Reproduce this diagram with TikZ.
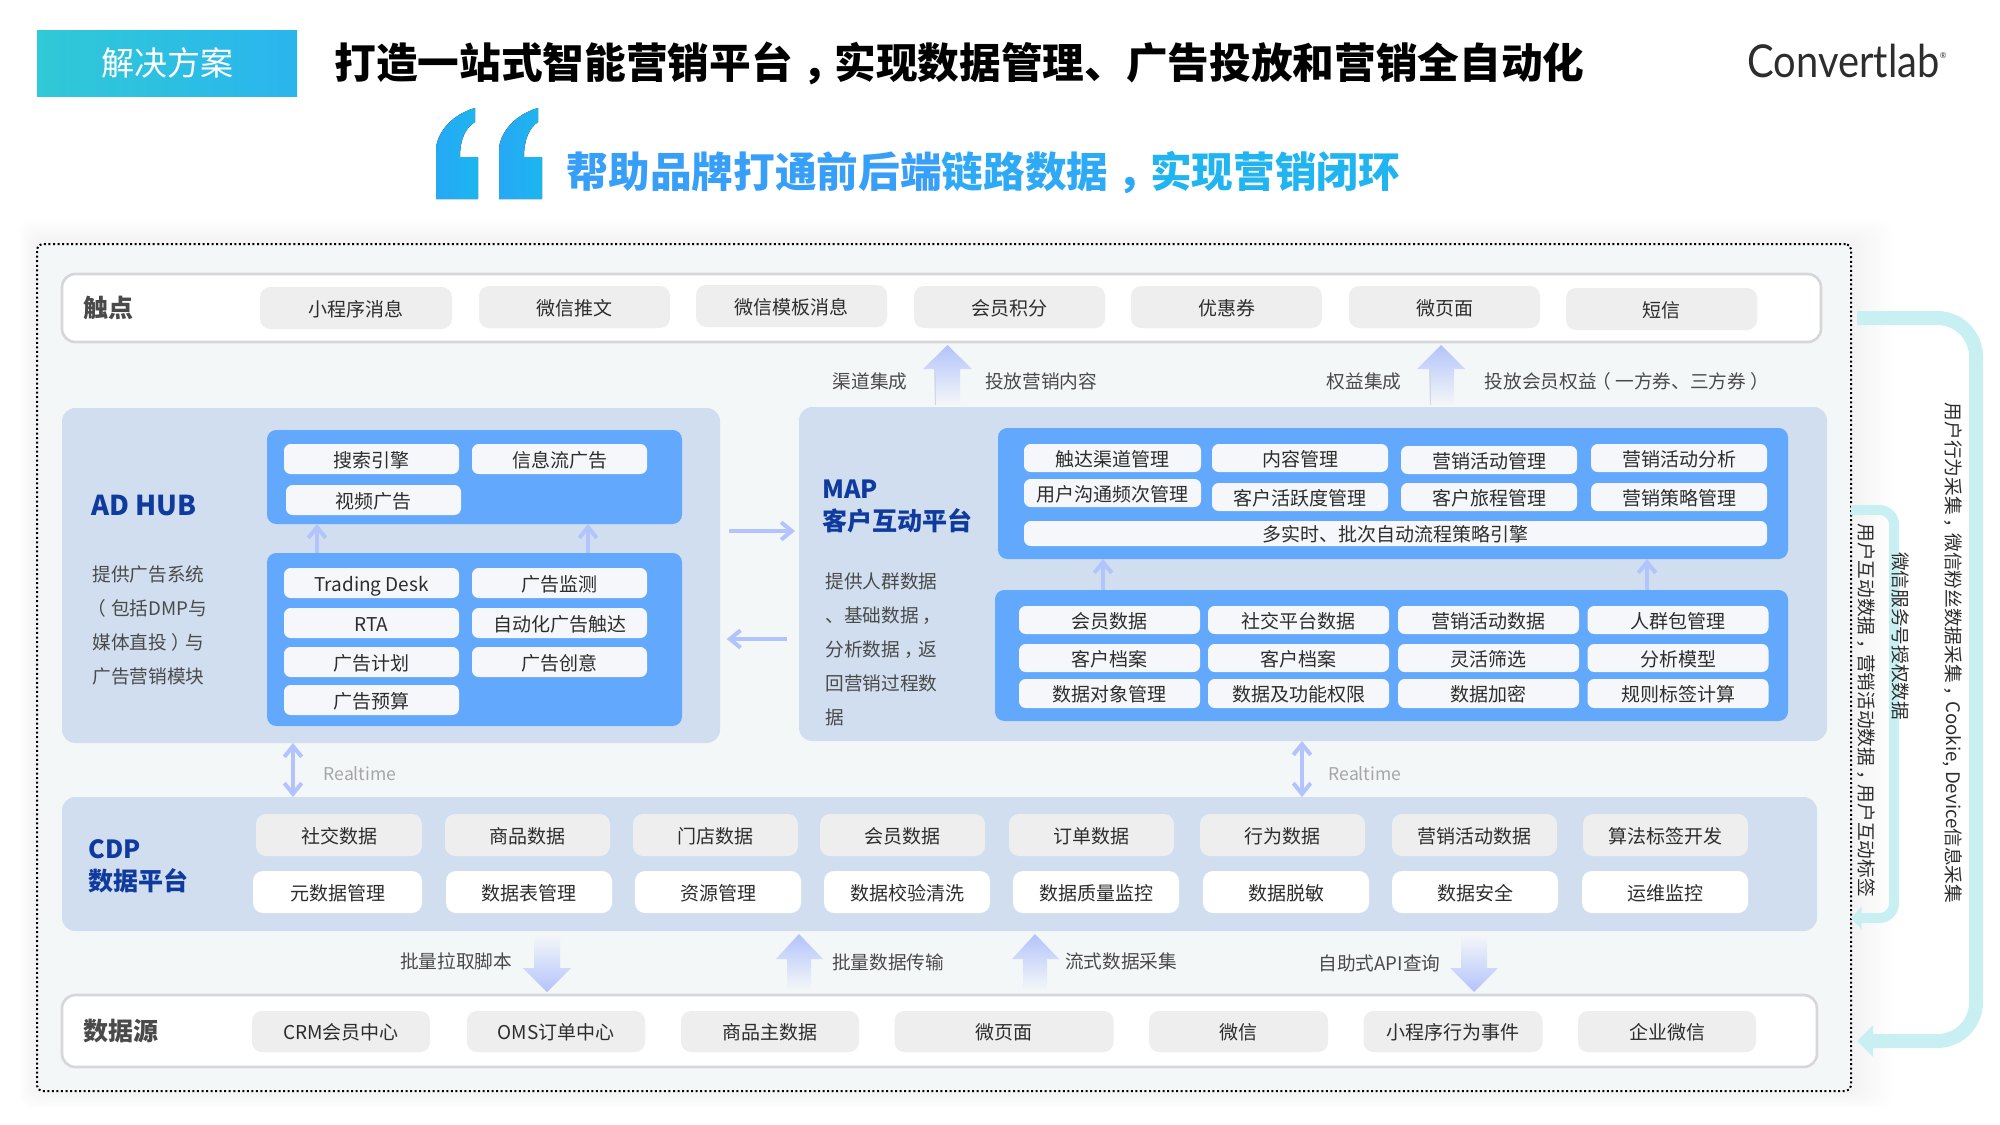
\documentclass[tikz,border=0pt]{standalone}
\usepackage{fontspec}
\setmainfont{Noto Sans CJK SC}
\newfontfamily\logofont{Lato}
\usetikzlibrary{arrows.meta}

\definecolor{panelbg}{HTML}{F4F7F8}
\definecolor{layerbg}{HTML}{D0DEEF}
\definecolor{innerblue}{HTML}{62A8FD}
\definecolor{chipgray}{HTML}{EEEEEE}
\definecolor{chipwhite}{HTML}{F6F7FA}
\definecolor{barline}{HTML}{D5D7DA}
\definecolor{headblue}{HTML}{0F3A9E}
\definecolor{arrowblue}{HTML}{B3C3FB}
\definecolor{looptint}{HTML}{C8F0F2}
\definecolor{textdark}{HTML}{2D2D2D}
\definecolor{textgray}{HTML}{4A4A4A}
\definecolor{badgeleft}{HTML}{30C9D6}
\definecolor{badgemid}{HTML}{3B95FF}
\definecolor{badgeright}{HTML}{2AB5EE}
\definecolor{quoteleft}{HTML}{26A8F5}
\definecolor{quoteright}{HTML}{1CB6EE}

%full-width marks sit in the middle of their box here
\newcommand{\cnc}{\hspace{.22em}，\hspace{-.22em}}
\newcommand{\cnl}{\hspace{-.25em}（\hspace{.25em}}
\newcommand{\cnr}{\hspace{.25em}）\hspace{-.25em}}

\tikzset{every picture/.style={line width=0.75pt}}
\tikzset{
  wh/.style 2 args={minimum width=#1*0.75pt,minimum height=#2*0.75pt,inner sep=0pt,outer sep=0pt},
  bodytext/.style={font=\fontsize{14.25}{17}\selectfont,text=textdark,text height=13.4pt,text depth=0.9pt},
  graychip/.style={fill=chipgray,rounded corners=7.5pt,bodytext},
  whitechip/.style={fill=white,rounded corners=7.5pt,bodytext},
  smallchip/.style={fill=chipwhite,rounded corners=5pt,bodytext},
  layerbox/.style={fill=layerbg,rounded corners=10pt},
  bluebox/.style={fill=innerblue,rounded corners=7pt},
  barbox/.style={fill=white,draw=barline,line width=2pt,rounded corners=10pt},
  barlabel/.style={anchor=west,inner sep=0pt,font=\fontsize{18.75}{22}\selectfont\bfseries,text=textgray},
  layerlabel/.style={anchor=west,inner sep=0pt,align=left,font=\fontsize{18.75}{24}\selectfont\bfseries,text=headblue},
  desclabel/.style={anchor=west,inner sep=0pt,align=left,font=\fontsize{14}{25.5}\selectfont,text=textgray},
  plainlabel/.style={font=\fontsize{14}{17}\selectfont,text=textgray},
  timelabel/.style={font=\fontsize{13.2}{17}\selectfont,text=black!35},
  vertlabel/.style={rotate=-90,font=\fontsize{14}{17}\selectfont,text=textdark},
  thinarrow/.style={draw=arrowblue,line width=3pt,-{Straight Barb[length=8pt,width=13pt]}},
  twoarrow/.style={draw=arrowblue,line width=3pt,{Straight Barb[length=8pt,width=13pt]}-{Straight Barb[length=8pt,width=13pt]}},
  upshade/.style={top color=arrowblue,bottom color=panelbg},
  downshade/.style={top color=panelbg,bottom color=arrowblue},
  looparrow/.style={draw=looptint,line width=10.5pt,-{Triangle[length=12pt,width=23pt]}},
  smallloop/.style={draw=looptint,line width=7.5pt,-{Triangle[length=8pt,width=17pt]}},
}

\begin{document}
\begin{tikzpicture}[x=0.75pt,y=0.75pt,yscale=-1,xscale=1]
\useasboundingbox (0,0) rectangle (2000,1125);

% Header
\node (badge) at (167,63) [wh={260}{66},left color=badgeleft,middle color=badgemid,right color=badgeright,font=\fontsize{24.75}{28}\selectfont,text=white] {解决方案};
\node (title) at (959.5,63) [font=\fontsize{31.25}{36}\selectfont\bfseries,text=black] {打造一站式智能营销平台\cnc 实现数据管理、广告投放和营销全自动化};
\node (logo) at (1847,61) [font=\logofont\fontsize{34}{40}\selectfont,text=textdark] {\scalebox{0.88}[1]{Convertlab}\raisebox{14pt}{\fontsize{6}{6}\selectfont ®}};
% Quote marks
\fill[left color=quoteleft,right color=quoteright] (436,199) -- (478,199) -- (478,157) -- (460,157) .. controls (460,140) and (465,128) .. (475,122) -- (475,108) .. controls (450,115) and (436,135) .. (436,150) -- cycle;
\fill[left color=quoteleft,right color=quoteright] (499,199) -- (542,199) -- (542,157) -- (524,157) .. controls (524,140) and (529,128) .. (538,122) -- (538,108) .. controls (513,115) and (499,135) .. (499,150) -- cycle;
\node (subtitle) at (983.5,173) [font=\fontsize{31.25}{36}\selectfont\bfseries] {\textcolor[HTML]{389FF8}{帮助品牌打通前后端}\textcolor[HTML]{2EA9F6}{链路数据\cnc}\textcolor[HTML]{20B4F0}{实现营销闭环}};

% Outer panel
\foreach \s in {1,...,12}
  \fill[black,opacity=0.004,rounded corners=8pt] ({37-1.5*\s},{244-2*\s}) rectangle ({1851+3.5*\s},{1091+1.4*\s});
\node (outer) at (944,667.5) [wh={1814}{847},fill=panelbg,draw=black,line width=1.5pt,dash pattern=on 1.5pt off 1.9pt,rounded corners=4pt] {};

% Touch points
\node (touch) at (941.5,308) [wh={1759}{68},barbox] {};
\node (touchlabel) at (83,308) [barlabel] {触点};
\node (t1) at (356,308) [wh={192}{42},graychip] {小程序消息};
\node (t2) at (574.5,307) [wh={191}{42},graychip] {微信推文};
\node (t3) at (791.5,306) [wh={191}{42},graychip] {微信模板消息};
\node (t4) at (1009.5,307) [wh={191}{42},graychip] {会员积分};
\node (t5) at (1226.5,307) [wh={191}{42},graychip] {优惠券};
\node (t6) at (1444.5,307) [wh={191}{42},graychip] {微页面};
\node (t7) at (1661.5,309) [wh={191}{42},graychip] {短信};

% Arrows under touch points
\path[upshade] (947.5,345) -- (972,369) -- (960,369) -- (960,405) -- (934,405) -- (934,369) -- (923,369) -- cycle;
\draw[barline] (935,369) -- (935,405);
\path[upshade] (1441,345) -- (1465,369) -- (1454,369) -- (1454,405) -- (1429,405) -- (1429,369) -- (1417,369) -- cycle;
\draw[barline] (1430,369) -- (1430,405);
\node (la) at (870,381) [plainlabel] {渠道集成};
\node (lb) at (1041,381) [plainlabel] {投放营销内容};
\node (lc) at (1364,381) [plainlabel] {权益集成};
\node (ld) at (1627,381) [plainlabel] {投放会员权益\cnl 一方券、三方券\cnr};

% AD HUB
\node (adhub) at (391,575.5) [wh={658}{335},layerbox] {};
\node (adup) at (474.5,477) [wh={415}{94},bluebox] {};
\node (adlow) at (474.5,639.5) [wh={415}{173},bluebox] {};
\node (adname) at (91,506) [layerlabel,font=\fontsize{20.5}{24}\selectfont\bfseries] {AD HUB};
\node (addesc) at (92,625.5) [desclabel] {提供广告系统\\\cnl 包括DMP与\\媒体直投\cnr 与\\广告营销模块};
\node (a1) at (371.5,459) [wh={175}{30},smallchip] {搜索引擎};
\node (a2) at (559.5,459) [wh={175}{30},smallchip] {信息流广告};
\node (a3) at (373.5,500) [wh={175}{30},smallchip] {视频广告};
\node (a4) at (371.5,583) [wh={175}{30},smallchip] {Trading Desk};
\node (a5) at (559.5,583) [wh={175}{30},smallchip] {广告监测};
\node (a6) at (371.5,623) [wh={175}{30},smallchip] {RTA};
\node (a7) at (559.5,623) [wh={175}{30},smallchip] {自动化广告触达};
\node (a8) at (371.5,662) [wh={175}{30},smallchip] {广告计划};
\node (a9) at (559.5,662) [wh={175}{30},smallchip] {广告创意};
\node (a10) at (371.5,700) [wh={175}{30},smallchip] {广告预算};
\coordinate (adxa) at (317,540);
\coordinate (adxb) at (588,540);
\draw[thinarrow] (adxa |- adlow.north) -- (adxa |- adup.south);
\draw[thinarrow] (adxb |- adlow.north) -- (adxb |- adup.south);

% MAP
\node (map) at (1313,574) [wh={1028}{334},layerbox] {};
\node (mapup) at (1393,493.5) [wh={790}{131},bluebox] {};
\node (maplow) at (1391.5,655.5) [wh={793}{131},bluebox] {};
\node (mapname) at (822,506) [layerlabel] {MAP\\客户互动平台};
\node (mapdesc) at (825,649.5) [desclabel] {提供人群数据\\、基础数据\cnc\\分析数据\cnc 返\\回营销过程数\\据};
\node (m1) at (1112.5,458) [wh={177}{28},smallchip] {触达渠道管理};
\node (m2) at (1300,458) [wh={176}{28},smallchip] {内容管理};
\node (m3) at (1489,460) [wh={176}{28},smallchip] {营销活动管理};
\node (m4) at (1679,458) [wh={176}{28},smallchip] {营销活动分析};
\node (m5) at (1112.5,493) [wh={177}{28},smallchip] {用户沟通频次管理};
\node (m6) at (1300,497) [wh={176}{28},smallchip] {客户活跃度管理};
\node (m7) at (1489,497) [wh={176}{28},smallchip] {客户旅程管理};
\node (m8) at (1679,497) [wh={176}{28},smallchip] {营销策略管理};
\node (m9) at (1395.5,533.5) [wh={743}{25},smallchip] {多实时、批次自动流程策略引擎};
\node (n1) at (1109.5,620) [wh={181}{28},smallchip] {会员数据};
\node (n2) at (1298.5,620) [wh={181}{28},smallchip] {社交平台数据};
\node (n3) at (1488.5,620) [wh={181}{28},smallchip] {营销活动数据};
\node (n4) at (1678,620) [wh={181}{28},smallchip] {人群包管理};
\node (n5) at (1109.5,658) [wh={181}{28},smallchip] {客户档案};
\node (n6) at (1298.5,658) [wh={181}{28},smallchip] {客户档案};
\node (n7) at (1488.5,658) [wh={181}{28},smallchip] {灵活筛选};
\node (n8) at (1678,658) [wh={181}{28},smallchip] {分析模型};
\node (n9) at (1109.5,693.5) [wh={181}{29},smallchip] {数据对象管理};
\node (n10) at (1298.5,693.5) [wh={181}{29},smallchip] {数据及功能权限};
\node (n11) at (1488.5,693.5) [wh={181}{29},smallchip] {数据加密};
\node (n12) at (1678,693.5) [wh={181}{29},smallchip] {规则标签计算};
\coordinate (mapxa) at (1103,575);
\coordinate (mapxb) at (1647,575);
\draw[thinarrow] (mapxa |- maplow.north) -- (mapxa |- mapup.south);
\draw[thinarrow] (mapxb |- maplow.north) -- (mapxb |- mapup.south);

% Between AD HUB and MAP
\coordinate (toright) at (760,531);
\coordinate (toleft) at (760,639);
\draw[thinarrow,shorten <=6.75pt,shorten >=3pt] (adhub.east |- toright) -- (map.west |- toright);
\draw[thinarrow,shorten <=9pt,shorten >=5pt] (map.west |- toleft) -- (adhub.east |- toleft);

% CDP
\node (cdp) at (939.5,864) [wh={1755}{134},layerbox] {};
\node (cdpname) at (88,866) [layerlabel] {CDP\\数据平台};
\node (c1) at (339,835) [wh={166}{42},graychip] {社交数据};
\node (c2) at (527.5,835) [wh={165}{42},graychip] {商品数据};
\node (c3) at (715.5,835) [wh={165}{42},graychip] {门店数据};
\node (c4) at (902.5,835) [wh={165}{42},graychip] {会员数据};
\node (c5) at (1091.5,835) [wh={165}{42},graychip] {订单数据};
\node (c6) at (1282.5,835) [wh={165}{42},graychip] {行为数据};
\node (c7) at (1474.5,835) [wh={165}{42},graychip] {营销活动数据};
\node (c8) at (1665.5,835) [wh={165}{42},graychip] {算法标签开发};
\node (d1) at (337.5,892) [wh={169}{42},whitechip] {元数据管理};
\node (d2) at (529,892) [wh={166}{42},whitechip] {数据表管理};
\node (d3) at (718,892) [wh={166}{42},whitechip] {资源管理};
\node (d4) at (907,892) [wh={166}{42},whitechip] {数据校验清洗};
\node (d5) at (1096,892) [wh={166}{42},whitechip] {数据质量监控};
\node (d6) at (1286,892) [wh={166}{42},whitechip] {数据脱敏};
\node (d7) at (1475,892) [wh={166}{42},whitechip] {数据安全};
\node (d8) at (1665,892) [wh={166}{42},whitechip] {运维监控};

% Realtime links
\coordinate (rtxa) at (293,770);
\coordinate (rtxb) at (1302,770);
\draw[twoarrow] (rtxa |- adhub.south) -- (rtxa |- cdp.north);
\draw[twoarrow] (rtxb |- map.south) -- (rtxb |- cdp.north);
\node (rta) at (360,774) [timelabel] {Realtime};
\node (rtb) at (1365,774) [timelabel] {Realtime};

% Data sources
\node (source) at (939.5,1031) [wh={1755}{72},barbox] {};
\node (sourcelabel) at (83,1031) [barlabel] {数据源};
\node (s1) at (341,1031.5) [wh={178}{41},graychip] {CRM会员中心};
\node (s2) at (556,1031.5) [wh={178}{41},graychip] {OMS订单中心};
\node (s3) at (770,1031.5) [wh={178}{41},graychip] {商品主数据};
\node (s4) at (1004,1031.5) [wh={219}{41},graychip] {微页面};
\node (s5) at (1238.5,1031.5) [wh={179}{41},graychip] {微信};
\node (s6) at (1453,1031.5) [wh={179}{41},graychip] {小程序行为事件};
\node (s7) at (1667,1031.5) [wh={178}{41},graychip] {企业微信};

% Arrows between CDP and data sources
\path[downshade] (547,992) -- (571,968) -- (560,968) -- (560,935) -- (534,935) -- (534,968) -- (523,968) -- cycle;
\path[upshade] (799,934) -- (823,959) -- (811,959) -- (811,990) -- (787,990) -- (787,959) -- (776,959) -- cycle;
\path[upshade] (1035,934) -- (1059,959) -- (1047,959) -- (1047,990) -- (1023,990) -- (1023,959) -- (1012,959) -- cycle;
\path[downshade] (1474,992) -- (1498,968) -- (1487,968) -- (1487,935) -- (1461,935) -- (1461,968) -- (1450,968) -- cycle;
\node (le) at (456,961) [plainlabel] {批量拉取脚本};
\node (lf) at (888,962) [plainlabel] {批量数据传输};
\node (lg) at (1121,961) [plainlabel] {流式数据采集};
\node (lh) at (1379.5,963) [plainlabel] {自助式API查询};

% Loops on the right
\coordinate (bigstart) at (1857,318);
\coordinate (bigend) at (1857,1041);
\coordinate (smallstart) at (1851,510);
\coordinate (smallend) at (1851,918);
\draw[looparrow,rounded corners=29pt] (bigstart) -- (1976,318) -- (1976,1041) -- (bigend);
\draw[smallloop,rounded corners=11pt] (smallstart) -- (1894,510) -- (1894,918) -- (smallend);
\node (va) at (1953,653) [vertlabel] {用户行为采集\cnc 微信粉丝数据采集\cnc Cookie, Device信息采集};
\node (vb) at (1901,636) [vertlabel] {微信服务号授权数据};
\node (vc) at (1866,710) [vertlabel] {用户互动数据\cnc 营销活动数据\cnc 用户互动标签};

\end{tikzpicture}
\end{document}
